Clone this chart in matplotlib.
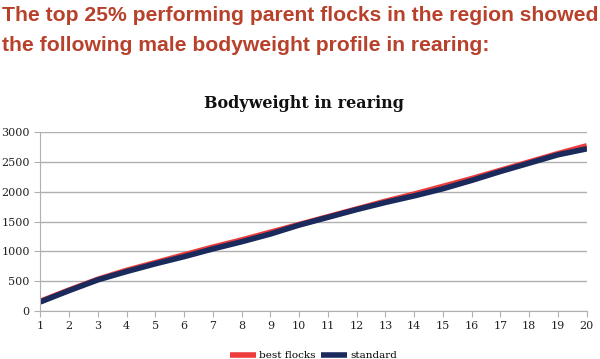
import matplotlib.pyplot as plt
import numpy as np

weeks = list(range(1, 21))
best_flocks = [160, 350, 530, 680, 810, 940, 1070, 1190, 1320, 1450,
               1580, 1710, 1840, 1960, 2090, 2220, 2360, 2500, 2640, 2770]
standard = [150, 340, 520, 660, 790, 910, 1040, 1160, 1290, 1440,
            1570, 1700, 1820, 1930, 2050, 2190, 2340, 2480, 2620, 2720]
yticks = [0, 500, 1000, 1500, 2000, 2500, 3000]

fig = plt.figure(figsize=(6, 3.59), dpi=100)
ax = fig.add_axes([0.067, 0.134, 0.911, 0.498])

header_color = '#b8412b'
fig.text(0.003, 0.958, 'The top 25% performing parent flocks in the region showed',
         color=header_color, fontsize=15.2, fontweight='bold',
         family='Liberation Sans', va='center', ha='left')
fig.text(0.003, 0.874, 'the following male bodyweight profile in rearing:',
         color=header_color, fontsize=15.2, fontweight='bold',
         family='Liberation Sans', va='center', ha='left')

fig.text(0.506, 0.713, 'Bodyweight in rearing', fontsize=11.5, fontweight='bold',
         family='DejaVu Serif', ha='center', va='center', color='#111111')

ax.plot(weeks, best_flocks, color='#ee3b3b', lw=4, label='best flocks',
        solid_capstyle='butt')
ax.plot(weeks, standard, color='#1b2a5c', lw=4, label='standard',
        solid_capstyle='butt')

ax.set_xlim(1, 20)
ax.set_ylim(0, 3000)
ax.set_xticks(weeks)
ax.set_yticks(yticks)
ax.grid(axis='y', color='#b0b0b0', lw=1)
ax.set_axisbelow(True)
for s in ['top', 'right']:
    ax.spines[s].set_visible(False)
for s in ['left', 'bottom']:
    ax.spines[s].set_color('#b0b0b0')
ax.tick_params(axis='both', colors='#b0b0b0', labelcolor='#222222',
               labelsize=8, length=4, direction='out')
for lab in ax.get_xticklabels() + ax.get_yticklabels():
    lab.set_family('DejaVu Serif')

ax.legend(loc='center', bbox_to_anchor=(0.5, -0.25), ncol=2, frameon=False,
          handlelength=2.5, columnspacing=0.5, handletextpad=0.3,
          prop={'family': 'DejaVu Serif', 'size': 7.5})

fig.savefig('out.png', dpi=100)
